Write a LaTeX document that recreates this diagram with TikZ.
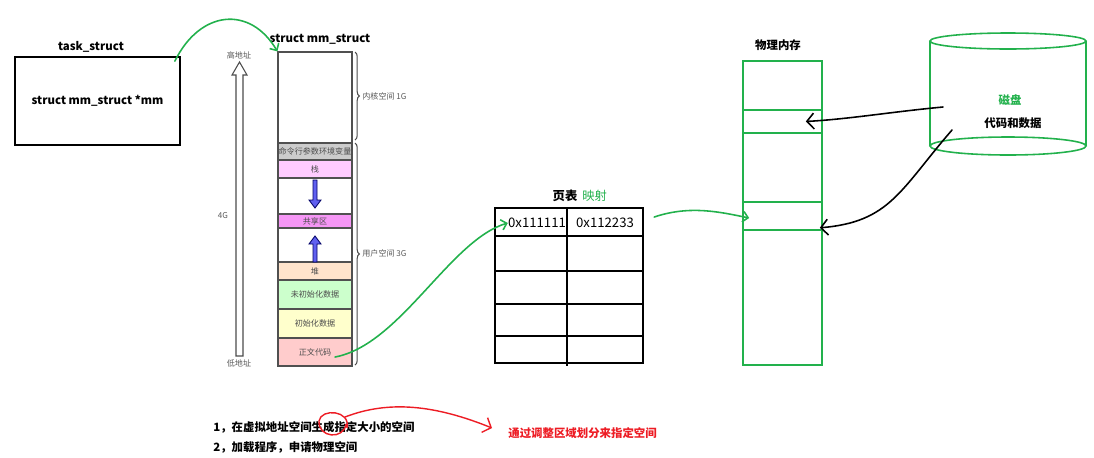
\documentclass[tikz,border=0pt]{standalone}
\usepackage{fontspec}
\setmainfont{Noto Sans CJK SC}
\usetikzlibrary{arrows.meta,positioning,calc,decorations.pathreplacing}
\definecolor{pgreen}{RGB}{34,177,76}
\definecolor{pred}{RGB}{237,28,36}
\definecolor{segline}{RGB}{80,80,80}
\definecolor{cargs}{RGB}{204,204,204}
\definecolor{cstack}{RGB}{255,204,255}
\definecolor{cshared}{RGB}{245,150,245}
\definecolor{cheap}{RGB}{255,228,204}
\definecolor{cbss}{RGB}{204,255,204}
\definecolor{cdata}{RGB}{255,255,204}
\definecolor{ccode}{RGB}{255,204,204}
\definecolor{cblue}{RGB}{96,96,240}
\tikzstyle{title} = [font=\bfseries\fontsize{6.5}{7}\selectfont,inner sep=0pt]
\tikzstyle{lbl} = [font=\fontsize{4.6}{5}\selectfont,text=black!65,inner sep=0pt]
\tikzstyle{seg} = [draw=segline,line width=0.7pt,minimum width=1.48cm,inner sep=0pt,font=\fontsize{4.6}{5}\selectfont,text=black!70]
\tikzstyle{box} = [draw,line width=1pt,inner sep=0pt,font=\bfseries\fontsize{6.5}{7}\selectfont]
\tikzstyle{gbox} = [draw=pgreen,line width=0.9pt,minimum width=1.58cm,inner sep=0pt]
\tikzstyle{cell} = [font=\fontsize{7.5}{8}\selectfont,inner sep=0pt]
\tikzstyle{tbl} = [line width=1pt]
\tikzstyle{brace} = [decorate,decoration={brace,amplitude=2.5pt},draw=black!70,line width=0.6pt]
\tikzstyle{bluearrow} = [fill=cblue,draw=blue!40!black,line width=0.5pt]
\tikzstyle{gcurve} = [draw=pgreen,line width=0.9pt,line cap=round,-{Straight Barb[length=3pt,width=6pt]}]
\tikzstyle{hand} = [line width=0.9pt,line cap=round,-{Straight Barb[length=4pt,width=9pt]}]
\tikzset{>=latex}

\begin{document}
\begin{tikzpicture}[x=0.02cm,y=-0.02cm]
  \useasboundingbox (0,0) rectangle (1094,457);

  % task_struct
  \node [title] (tasktitle) at (91,47) {task\_struct};
  \node [box,minimum width=3.3cm,minimum height=1.76cm] (task) at (97.5,101) {struct mm\_struct *mm};

  % mm_struct column
  \node [title] (mmtitle) at (320,39) {struct mm\_struct};
  \node [seg,minimum height=1.82cm] (kern) at (315,97.5) {};
  \node [seg,fill=cargs,minimum height=0.34cm] (args) at (315,151.5) {命令行参数环境变量};
  \node [seg,fill=cstack,minimum height=0.36cm] (stack) at (315,169) {栈};
  \node [seg,minimum height=0.72cm] (gapA) at (315,196) {};
  \node [seg,fill=cshared,minimum height=0.28cm] (shared) at (315,221) {共享区};
  \node [seg,minimum height=0.68cm] (gapB) at (315,245) {};
  \node [seg,fill=cheap,minimum height=0.36cm] (heap) at (315,271) {堆};
  \node [seg,fill=cbss,minimum height=0.58cm] (bss) at (315,294.5) {未初始化数据};
  \node [seg,fill=cdata,minimum height=0.58cm] (data) at (315,323.5) {初始化数据};
  \node [seg,fill=ccode,minimum height=0.56cm] (code) at (315,352) {正文代码};
  \draw [bluearrow] (313,180) -- (317,180) -- (317,200) -- (321,200) -- (315,208) -- (309,200) -- (313,200) -- cycle;
  \draw [bluearrow] (313,262) -- (313,244) -- (309,244) -- (315,236) -- (321,244) -- (317,244) -- (317,262) -- cycle;

  % braces
  \draw [brace] (355,52) -- (355,140);
  \node [lbl,anchor=west] (kernlbl) at (362,96) {内核空间 1G};
  \draw [brace] (355,143) -- (355,365);
  \node [lbl,anchor=west] (userlbl) at (362,253) {用户空间 3G};

  % address arrow
  \draw [draw=black!70,fill=white,line width=0.6pt] (236,356) -- (236,75) -- (232,75) -- (239.5,62) -- (247,75) -- (243,75) -- (243,356) -- cycle;
  \node [lbl] (high) at (239,55) {高地址};
  \node [lbl] (low) at (239,363) {低地址};
  \node [lbl] (four) at (223,216) {4G};

  % page table
  \node [title,font=\bfseries\fontsize{7}{8}\selectfont] (pttitle) at (565,196) {页表};
  \node [inner sep=0pt,text=pgreen,font=\fontsize{7}{8}\selectfont,right=2.5pt of pttitle] (map) {映射};
  \draw [tbl] (495,208) rectangle (643,363);
  \draw [tbl] (567,208) -- (567,366);
  \foreach \y in {236,271,304,336}
    \draw [tbl] (495,\y) -- (643,\y);
  \node [cell] (pa) at (537,223) {0x111111};
  \node [cell] (pb) at (605,223) {0x112233};

  % physical memory
  \node [title] (memtitle) at (778,45) {物理内存};
  \node [gbox,minimum height=6.08cm] (mem) at (782.5,213) {};
  \node [gbox,minimum height=0.46cm] (slotA) at (782.5,121.5) {};
  \node [gbox,minimum height=0.56cm] (slotB) at (782.5,216) {};

  % disk
  \draw [draw=pgreen,line width=0.9pt] (930,41) -- (930,146);
  \draw [draw=pgreen,line width=0.9pt] (1086,41) -- (1086,146);
  \draw [draw=pgreen,line width=0.9pt] (1008,41) ellipse [x radius=78,y radius=8];
  \draw [draw=pgreen,line width=0.9pt] (1008,146) ellipse [x radius=78,y radius=9];
  \node [title,text=pgreen] (disk) at (1010,100) {磁盘};
  \node [title] (diskdata) at (1013,123) {代码和数据};
  \coordinate (srcA) at (943,107);
  \coordinate (srcB) at (952,130);

  % connectors
  \draw [gcurve] ($(task.north east)+(-6,5)$) .. controls (200,10) and (250,5) .. (kern.north west);
  \draw [gcurve] ($(code.center)+(20,5)$) .. controls (400,345) and (450,240) .. (pa.west);
  \draw [gcurve] ($(pb.east)+(20,-6)$) .. controls (690,205) and (720,212) .. ($(slotB.west)+(7,2)$);
  \draw [hand] (srcA) .. controls (890,112) and (850,119) .. ($(slotA.east)+(-17,0)$);
  \draw [hand] (srcB) .. controls (900,190) and (890,222) .. ($(slotB.south east)+(-3,-3)$);

  % notes
  \node [title,anchor=west] (step1) at (213,427) {1，在虚拟地址空间生成指定大小的空间};
  \node [title,anchor=west] (step2) at (213,447) {2，加载程序，申请物理空间};
  \node [title,text=pred,anchor=west] (redtxt) at (508,433) {通过调整区域划分来指定空间};
  \draw [pred,line width=0.8pt] (347,428) .. controls (351,410) and (321,408) .. (319,421) .. controls (318,438) and (344,440) .. (346,424);
  \draw [hand,pred,line width=0.8pt] (345,417) .. controls (389,400) and (435,405) .. ($(redtxt.west)+(-16,-5)$);
\end{tikzpicture}
\end{document}
